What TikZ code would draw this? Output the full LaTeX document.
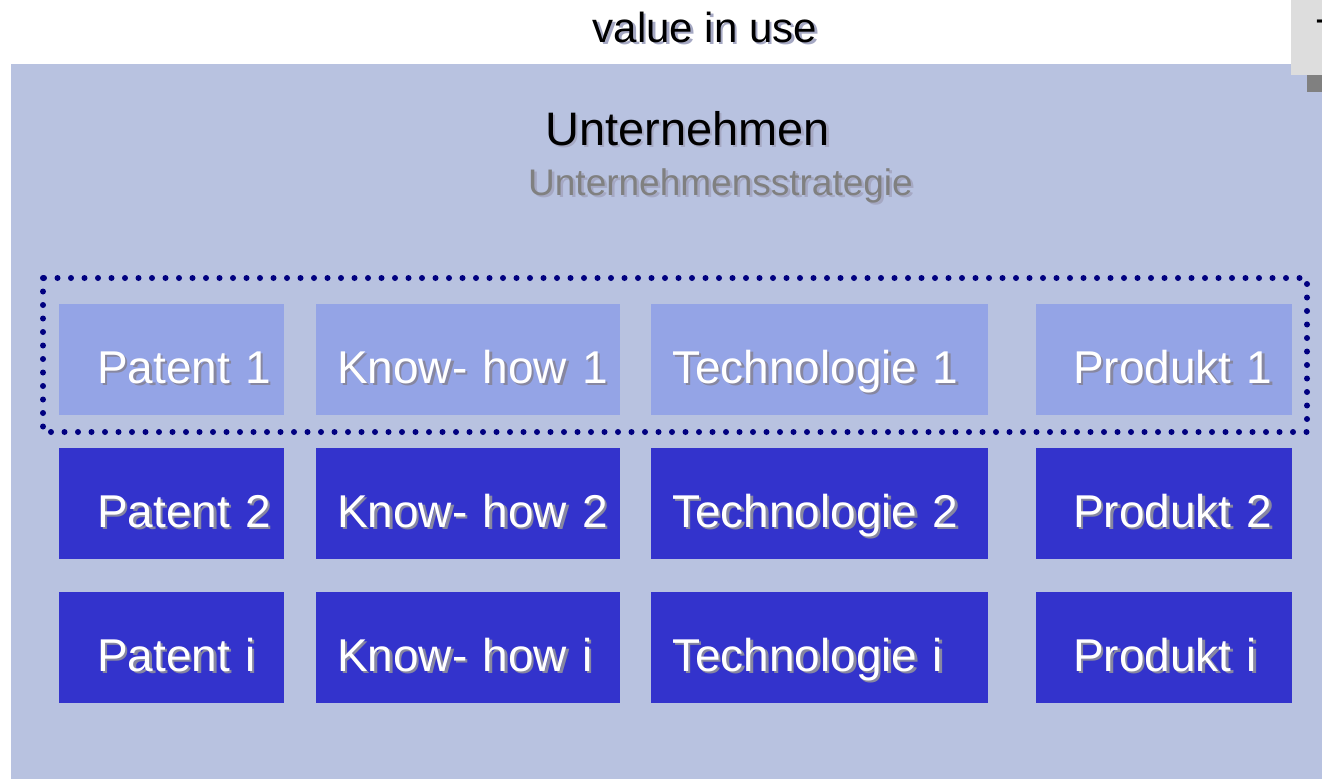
\documentclass[tikz,border=0pt]{standalone}
\usepackage{fontspec}
\setmainfont{Liberation Sans}
\usetikzlibrary{positioning}
\definecolor{clrPanel}{RGB}{184,194,224}
\definecolor{clrLight}{RGB}{148,164,230}
\definecolor{clrDark}{RGB}{51,51,204}
\definecolor{clrDots}{RGB}{0,0,128}
\definecolor{clrSub}{RGB}{128,128,128}
\definecolor{clrShd}{RGB}{135,135,160}
\definecolor{clrShdL}{RGB}{165,168,195}
\definecolor{clrCorner}{RGB}{221,221,221}
% text with a drop shadow
\newcommand{\shtext}[2][clrShd]{%
  \makebox[0pt][l]{\hspace{2.5pt}\raisebox{-2.5pt}{\textcolor{#1}{#2}}}#2}
\tikzset{
  cell/.style={rectangle,inner sep=0pt,minimum height=111pt,
    text height=47pt,text depth=0pt,align=left,text=white,
    font=\fontsize{46}{50}\selectfont},
  cellL/.style={cell,fill=clrLight},
  cellD/.style={cell,fill=clrDark},
  indent/.style={execute at begin node={\hspace*{#1}}},
  colP/.style={text width=225pt,indent=38pt},
  colK/.style={text width=304pt,indent=21pt},
  colT/.style={text width=337pt,indent=21pt},
  colR/.style={text width=256pt,indent=37pt},
  head/.style={anchor=base,inner sep=0pt},
  dotframe/.style={draw=clrDots,line width=6pt,line cap=round,
    dash pattern=on 0pt off 13.5pt}
}
\begin{document}
\begin{tikzpicture}[x=1pt,y=-1pt]
  \useasboundingbox (0,0) rectangle (1322,779);
  % background panel and cut-off corner box
  \fill[clrPanel] (11,64) rectangle (1322,779);
  \fill[clrSub] (1307,75) rectangle (1322,92);
  \fill[clrCorner] (1291,0) rectangle (1322,75);
  \begin{scope}
    \clip (1291,0) rectangle (1322,75);
    \node[anchor=base west,inner sep=0pt,font=\fontsize{40}{44}\selectfont]
      (corner) at (1316,47) {T};
  \end{scope}
  % titles
  \node[head,font=\fontsize{42}{46}\selectfont] (use) at (705,42)
    {\shtext[clrShdL]{value in use}};
  \node[head,font=\fontsize{47}{52}\selectfont] (firm) at (687.5,145)
    {\shtext[clrShdL]{Unternehmen}};
  \node[head,text=clrSub,font=\fontsize{37}{40}\selectfont] (strat) at (720.5,195)
    {\shtext[clrShdL]{Unternehmensstrategie}};
  % dotted frame round the first row
  \draw[dotframe] (43,278) rectangle (1307,432);
  % first row
  \node[cellL,colP] (p1) at (171.5,359.5) {\shtext{Patent 1}};
  \node[cellL,colK] (k1) at (468,359.5) {\shtext{Know- how 1}};
  \node[cellL,colT] (t1) at (819.5,359.5) {\shtext{Technologie 1}};
  \node[cellL,colR] (r1) at (1164,359.5) {\shtext{Produkt 1}};
  % second row
  \node[cellD,colP] (p2) at (171.5,503.5) {\shtext{Patent 2}};
  \node[cellD,colK] (k2) at (468,503.5) {\shtext{Know- how 2}};
  \node[cellD,colT] (t2) at (819.5,503.5) {\shtext{Technologie 2}};
  \node[cellD,colR] (r2) at (1164,503.5) {\shtext{Produkt 2}};
  % third row
  \node[cellD,colP] (pi) at (171.5,647.5) {\shtext{Patent i}};
  \node[cellD,colK] (ki) at (468,647.5) {\shtext{Know- how i}};
  \node[cellD,colT] (ti) at (819.5,647.5) {\shtext{Technologie i}};
  \node[cellD,colR] (ri) at (1164,647.5) {\shtext{Produkt i}};
\end{tikzpicture}
\end{document}
